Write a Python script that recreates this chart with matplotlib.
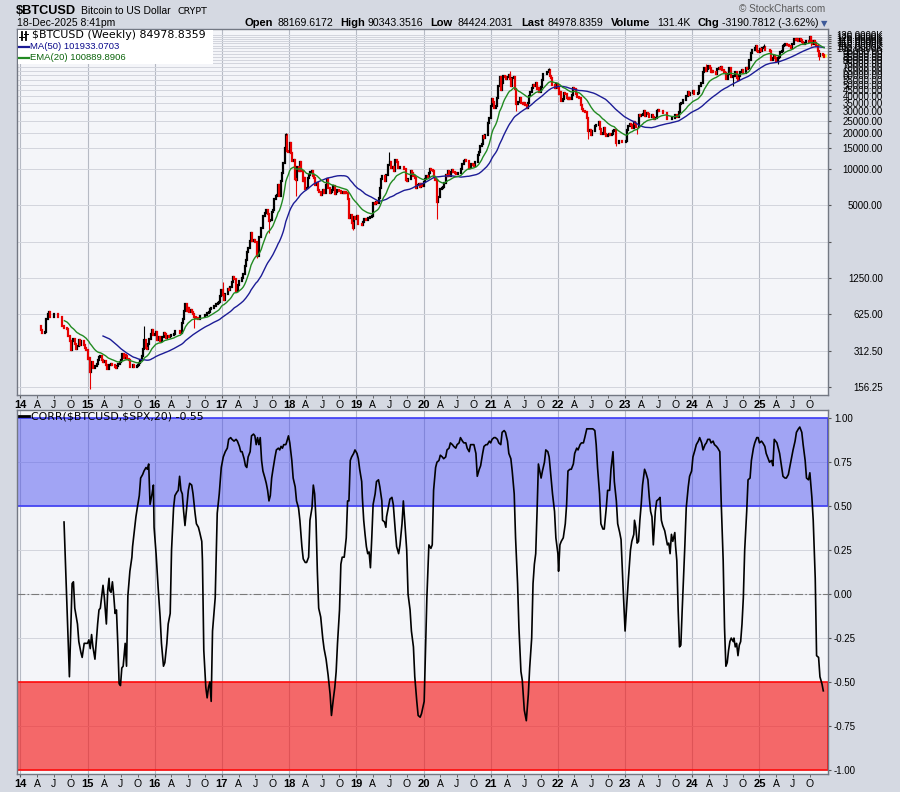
import matplotlib
matplotlib.use('Agg')
import matplotlib.pyplot as plt
from matplotlib.lines import Line2D
from matplotlib.patches import Rectangle
from matplotlib.ticker import NullLocator
import numpy as np
import pandas as pd

plt.rcParams['font.family'] = ['Liberation Sans', 'DejaVu Sans']

# weekly closes of $BTCUSD (weeks starting Monday)
close_2014 = [500, 460, 435, 440, 447, 575, 630, 655, 590, 598, 600, 635, 635, 627, 595, 590,
              590, 500, 505, 478, 480, 477, 412, 377, 320, 378, 390, 355, 325, 345, 387, 352,
              378, 375, 350, 330, 318, 265]
close_2015 = [274, 210, 253, 226, 223, 234, 245, 260, 275, 285, 263, 252, 255, 236, 222, 219,
              240, 241, 237, 240, 230, 225, 233, 245, 250, 261, 292, 273, 290, 281, 265, 260,
              228, 229, 240, 230, 231, 234, 239, 247, 262, 284, 325, 385, 332, 322, 357, 389,
              434, 461, 422, 433]
close_2016 = [448, 387, 403, 378, 376, 407, 438, 432, 402, 413, 410, 417, 420, 421, 428, 458,
              452, 459, 457, 440, 527, 574, 670, 760, 665, 704, 650, 680, 660, 624, 590, 585,
              581, 573, 610, 607, 610, 603, 613, 617, 641, 657, 698, 705, 703, 730, 735, 767,
              770, 790, 891, 998]
close_2017 = [910, 820, 925, 920, 1015, 1000, 1050, 1150, 1270, 1230, 970, 970, 1100, 1190,
              1180, 1240, 1350, 1560, 1770, 2050, 2200, 2520, 2950, 2520, 2600, 2500, 2500,
              1920, 2750, 2730, 3230, 4050, 4100, 4350, 4600, 4230, 3700, 3800, 4390, 4600,
              5700, 6000, 6150, 7400, 5950, 8000, 9300, 11200, 15000, 19100, 14000, 13900]
close_2018 = [16500, 13600, 11600, 11800, 8300, 8100, 10400, 9600, 11450, 9600, 7900, 8500,
              6850, 7000, 8350, 8900, 9400, 9650, 8700, 8500, 7350, 7700, 6750, 6450, 6150,
              6350, 6750, 6350, 7400, 8200, 7000, 6300, 6400, 6700, 7300, 6250, 6500, 6700,
              6630, 6600, 6300, 6410, 6350, 6400, 6350, 5600, 3900, 4150, 3600, 3250, 4000,
              3850, 4050]
close_2019 = [3500, 3530, 3530, 3410, 3660, 3880, 3800, 3800, 3930, 4000, 4000, 4100, 5200,
              5150, 5300, 5200, 5750, 7000, 8200, 8750, 8750, 7950, 8950, 10800, 10800, 11400,
              10250, 10350, 9550, 11800, 11350, 10200, 10150, 10350, 10400, 10300, 10050, 8050,
              7900, 8300, 8200, 9550, 9200, 8800, 8500, 6900, 7400, 7500, 7100, 7500, 7250, 7750]
close_2020 = [8200, 8700, 8600, 9350, 10100, 9900, 9700, 8550, 8050, 5350, 5850, 5900, 6800,
              6900, 7150, 7700, 8900, 8750, 9650, 8700, 9450, 9750, 9400, 9300, 9050, 9100,
              9250, 9200, 9950, 11100, 11700, 11850, 11650, 11700, 10250, 10450, 10950, 10750,
              10680, 11400, 11500, 13050, 13750, 15500, 16050, 18700, 18200, 19150, 19150,
              24000, 26300, 33000]
close_2021 = [38200, 35800, 32300, 33100, 39000, 48700, 57500, 45200, 51200, 59300, 57400,
              55800, 58200, 60000, 56200, 49000, 56600, 58200, 46400, 34700, 35600, 35800,
              39100, 35500, 34700, 35300, 34200, 31800, 35400, 39900, 43800, 47000, 49300,
              48900, 51750, 46000, 47300, 43200, 48200, 54900, 61500, 60900, 61300, 63300,
              65500, 58700, 57300, 49400, 50100, 46700, 50800, 47300]
close_2022 = [41800, 43100, 36300, 37900, 42400, 42200, 38400, 37700, 38400, 37800, 41300,
              46800, 46400, 42200, 39700, 39500, 38500, 34100, 31300, 30300, 29400, 29900,
              26600, 20500, 21000, 19300, 20800, 20800, 22600, 23300, 23200, 24300, 21500,
              19550, 19800, 21800, 19400, 18800, 19050, 19450, 19250, 19570, 20600, 20900,
              16300, 16300, 16450, 17100, 17100, 16750, 16850, 16600]
close_2023 = [17100, 20900, 22700, 23750, 22950, 21800, 24600, 23500, 22400, 22150, 28000,
              27700, 28200, 28300, 30300, 27600, 29250, 28450, 27000, 26850, 28050, 26850,
              25850, 26500, 30500, 30600, 30150, 30250, 30000, 29300, 29050, 29300, 26100,
              26000, 25850, 25850, 26550, 26250, 27950, 27950, 27150, 29900, 34500, 35000,
              37050, 37350, 37450, 39950, 43800, 41400, 43000, 42250]
close_2024 = [43900, 41700, 41550, 42000, 42600, 48300, 51650, 51700, 63100, 69000, 65300,
              67200, 71300, 69350, 63400, 64950, 63100, 63900, 61450, 66950, 68500, 67750,
              69650, 66200, 64250, 62700, 55850, 60800, 68150, 68250, 58100, 58700, 58900,
              64200, 57300, 54850, 59150, 63600, 65600, 62800, 62850, 68350, 67950, 68750,
              80450, 90600, 97650, 96450, 101100, 104450, 95100, 93750, 98300]
close_2025 = [94500, 101100, 102600, 97700, 96500, 96150, 96250, 94250, 80700, 82600, 86100,
              82350, 78400, 83750, 85200, 93750, 94300, 104100, 106000, 109000, 105600, 105700,
              105500, 100900, 108400, 109200, 119000, 117300, 119400, 114200, 119300, 117500,
              113500, 108200, 111100, 115300, 115300, 112200, 123500, 115200, 108600, 114600,
              110600, 104700, 94200, 86900, 90400, 90400, 88170, 84979]

# notable weekly wicks (week start, extreme price)
spike_weeks = ['2015-01-12', '2015-11-02', '2016-08-01', '2017-01-02', '2017-07-10',
               '2017-09-11', '2017-12-11', '2018-02-05', '2018-12-10', '2019-06-24',
               '2020-03-09', '2021-04-12', '2021-05-17', '2021-11-08', '2022-06-13',
               '2022-11-07', '2023-03-06', '2024-03-11', '2024-08-05', '2025-01-20',
               '2025-04-07', '2025-10-06', '2025-10-06', '2025-11-17']
spike_prices = [152, 500, 480, 1150, 1840, 2980, 19800, 6000, 3150, 13800, 3850, 64800,
                30000, 69000, 17600, 15500, 19600, 73800, 49000, 109000, 74500, 126000,
                104000, 80500]

# current week
week_high = 90343.3516
week_low = 84424.2031

# CORR($BTCUSD,$SPX,20), decimal year / value
corr_t1 = [2014.65, 2014.73, 2014.77, 2014.79, 2014.81, 2014.85, 2014.87, 2014.90, 2014.92, 2014.95,
           2014.98, 2015.00, 2015.02, 2015.04, 2015.06, 2015.08, 2015.11, 2015.15, 2015.17, 2015.19,
           2015.22, 2015.23, 2015.25, 2015.28, 2015.30, 2015.32, 2015.33, 2015.35, 2015.37, 2015.39,
           2015.41, 2015.43, 2015.45, 2015.47, 2015.49, 2015.51, 2015.53, 2015.56, 2015.58, 2015.60,
           2015.63, 2015.66, 2015.67, 2015.69, 2015.72, 2015.74, 2015.77, 2015.79, 2015.82, 2015.84,
           2015.87, 2015.89, 2015.91, 2015.93, 2015.96, 2015.98, 2015.99, 2016.02, 2016.05, 2016.08,
           2016.10, 2016.13, 2016.15, 2016.18, 2016.20, 2016.23, 2016.25, 2016.28, 2016.30, 2016.33,
           2016.35, 2016.37, 2016.39, 2016.41, 2016.43, 2016.45, 2016.47, 2016.50, 2016.52, 2016.55,
           2016.57, 2016.60, 2016.62, 2016.65, 2016.67, 2016.70, 2016.71, 2016.73, 2016.76, 2016.78,
           2016.80, 2016.82, 2016.84, 2016.86, 2016.90, 2016.93, 2016.96, 2016.99]
corr_v1 = [0.41, -0.47, 0.06, 0.07, -0.08, -0.17, -0.27, -0.33, -0.36, -0.28,
           -0.28, -0.28, -0.26, -0.31, -0.23, -0.30, -0.37, -0.17, -0.09, -0.08,
           0.02, 0.05, -0.02, -0.17, 0.02, 0.09, 0.02, 0.01, 0.07, -0.01,
           -0.11, -0.09, -0.28, -0.51, -0.52, -0.42, -0.41, -0.28, -0.41, -0.01,
           0.13, 0.21, 0.27, 0.34, 0.44, 0.49, 0.56, 0.66, 0.68, 0.70,
           0.72, 0.71, 0.74, 0.51, 0.57, 0.62, 0.38, 0.23, 0.04, -0.13,
           -0.28, -0.41, -0.39, -0.28, -0.17, -0.11, 0.25, 0.49, 0.56, 0.58,
           0.59, 0.67, 0.59, 0.57, 0.47, 0.39, 0.47, 0.59, 0.63, 0.62,
           0.57, 0.46, 0.40, 0.38, 0.35, 0.30, 0.19, -0.32, -0.53, -0.59,
           -0.53, -0.50, -0.61, -0.21, -0.02, 0.46, 0.57, 0.72]
corr_t2 = [2017.02, 2017.05, 2017.08, 2017.10, 2017.13, 2017.15, 2017.18, 2017.21, 2017.23, 2017.26,
           2017.28, 2017.30, 2017.33, 2017.35, 2017.37, 2017.39, 2017.42, 2017.44, 2017.47, 2017.49,
           2017.51, 2017.53, 2017.55, 2017.57, 2017.59, 2017.61, 2017.64, 2017.66, 2017.68, 2017.70,
           2017.72, 2017.74, 2017.76, 2017.79, 2017.81, 2017.84, 2017.86, 2017.88, 2017.90, 2017.92,
           2017.95, 2017.96, 2017.99, 2018.01, 2018.04, 2018.06, 2018.09, 2018.11, 2018.14, 2018.16,
           2018.19, 2018.21, 2018.24, 2018.26, 2018.29, 2018.31, 2018.34, 2018.36, 2018.38, 2018.40,
           2018.42, 2018.44, 2018.47, 2018.50, 2018.52, 2018.55, 2018.58, 2018.61, 2018.63, 2018.66,
           2018.68, 2018.70, 2018.72, 2018.75, 2018.77, 2018.79, 2018.82, 2018.85, 2018.87, 2018.89,
           2018.91, 2018.93, 2018.96, 2018.98, 2019.01, 2019.03, 2019.05, 2019.08, 2019.09, 2019.11,
           2019.13, 2019.15, 2019.17, 2019.19, 2019.21, 2019.23, 2019.25, 2019.28, 2019.30, 2019.33,
           2019.35, 2019.38, 2019.39, 2019.42, 2019.44, 2019.45, 2019.48, 2019.50, 2019.53, 2019.55,
           2019.58, 2019.60, 2019.63, 2019.65, 2019.68, 2019.70, 2019.72, 2019.75, 2019.77, 2019.80,
           2019.82, 2019.85, 2019.87, 2019.90, 2019.92, 2019.95, 2019.97]
corr_v2 = [0.78, 0.81, 0.83, 0.88, 0.89, 0.88, 0.87, 0.88, 0.87, 0.84,
           0.81, 0.81, 0.77, 0.73, 0.72, 0.78, 0.81, 0.90, 0.91, 0.90,
           0.85, 0.89, 0.85, 0.89, 0.76, 0.70, 0.66, 0.63, 0.59, 0.53,
           0.56, 0.66, 0.71, 0.78, 0.82, 0.83, 0.82, 0.84, 0.83, 0.85,
           0.85, 0.86, 0.90, 0.86, 0.76, 0.66, 0.61, 0.53, 0.49, 0.42,
           0.27, 0.20, 0.18, 0.18, 0.21, 0.42, 0.49, 0.62, 0.57, 0.42,
           0.13, -0.08, -0.13, -0.25, -0.31, -0.37, -0.46, -0.57, -0.69, -0.59,
           -0.53, -0.44, -0.28, -0.09, 0.17, 0.21, 0.21, 0.32, 0.53, 0.53,
           0.76, 0.78, 0.80, 0.82, 0.80, 0.77, 0.71, 0.64, 0.55, 0.42,
           0.34, 0.27, 0.23, 0.24, 0.15, 0.32, 0.51, 0.57, 0.64, 0.65,
           0.61, 0.53, 0.42, 0.41, 0.38, 0.44, 0.50, 0.54, 0.55, 0.51,
           0.36, 0.27, 0.23, 0.28, 0.40, 0.53, 0.42, 0.25, 0.00, -0.09,
           -0.21, -0.30, -0.47, -0.61, -0.69, -0.70, -0.68]
corr_t3 = [2020.01, 2020.05, 2020.08, 2020.11, 2020.13, 2020.15, 2020.18, 2020.20, 2020.23, 2020.25,
           2020.28, 2020.30, 2020.33, 2020.35, 2020.38, 2020.40, 2020.43, 2020.45, 2020.48, 2020.50,
           2020.53, 2020.55, 2020.58, 2020.60, 2020.63, 2020.65, 2020.68, 2020.70, 2020.73, 2020.75,
           2020.78, 2020.80, 2020.83, 2020.85, 2020.88, 2020.90, 2020.93, 2020.95, 2020.98, 2021.00,
           2021.02, 2021.05, 2021.07, 2021.10, 2021.12, 2021.15, 2021.17, 2021.20, 2021.22, 2021.25,
           2021.27, 2021.30, 2021.32, 2021.35, 2021.37, 2021.40, 2021.42, 2021.45, 2021.47, 2021.50,
           2021.53, 2021.56, 2021.58, 2021.61, 2021.63, 2021.65, 2021.67, 2021.69, 2021.71, 2021.73,
           2021.75, 2021.77, 2021.80, 2021.82, 2021.85, 2021.87, 2021.90, 2021.92, 2021.95, 2021.97,
           2022.00, 2022.01, 2022.03, 2022.05, 2022.08, 2022.11, 2022.13, 2022.15, 2022.18, 2022.20,
           2022.23, 2022.25, 2022.28, 2022.30, 2022.33, 2022.35, 2022.38, 2022.40, 2022.43, 2022.47,
           2022.52, 2022.55, 2022.57, 2022.59, 2022.62, 2022.64, 2022.67, 2022.69, 2022.72, 2022.74,
           2022.77, 2022.79, 2022.82, 2022.84, 2022.87, 2022.89, 2022.92, 2022.94, 2022.97]
corr_v3 = [-0.61, -0.02, 0.28, 0.26, 0.28, 0.59, 0.72, 0.75, 0.76, 0.79,
           0.78, 0.77, 0.78, 0.82, 0.83, 0.86, 0.85, 0.84, 0.83, 0.85,
           0.86, 0.89, 0.87, 0.86, 0.86, 0.83, 0.81, 0.85, 0.85, 0.85,
           0.80, 0.67, 0.71, 0.73, 0.80, 0.84, 0.85, 0.85, 0.87, 0.86,
           0.88, 0.89, 0.89, 0.88, 0.86, 0.85, 0.92, 0.93, 0.92, 0.87,
           0.80, 0.77, 0.70, 0.57, 0.32, 0.06, -0.19, -0.44, -0.49, -0.66,
           -0.72, -0.57, -0.42, -0.25, 0.06, 0.17, 0.23, 0.47, 0.74, 0.70,
           0.66, 0.70, 0.75, 0.82, 0.81, 0.78, 0.65, 0.57, 0.47, 0.32,
           0.23, 0.13, 0.28, 0.30, 0.32, 0.40, 0.51, 0.70, 0.71, 0.71,
           0.74, 0.80, 0.83, 0.82, 0.85, 0.86, 0.86, 0.89, 0.94, 0.94,
           0.94, 0.93, 0.85, 0.72, 0.57, 0.40, 0.37, 0.37, 0.49, 0.59,
           0.59, 0.71, 0.81, 0.64, 0.53, 0.40, 0.35, 0.31, 0.04]
corr_t4 = [2023.00, 2023.02, 2023.05, 2023.08, 2023.10, 2023.13, 2023.14, 2023.16, 2023.18, 2023.20,
           2023.22, 2023.24, 2023.26, 2023.29, 2023.31, 2023.34, 2023.36, 2023.38, 2023.40, 2023.42,
           2023.45, 2023.47, 2023.50, 2023.52, 2023.54, 2023.56, 2023.59, 2023.61, 2023.63, 2023.65,
           2023.67, 2023.69, 2023.71, 2023.74, 2023.75, 2023.77, 2023.79, 2023.81, 2023.83, 2023.85,
           2023.87, 2023.89, 2023.91, 2023.94, 2023.96, 2023.99, 2024.01, 2024.04, 2024.06, 2024.09,
           2024.11, 2024.14, 2024.16, 2024.19, 2024.21, 2024.23, 2024.26, 2024.28, 2024.31, 2024.33,
           2024.36, 2024.38, 2024.41, 2024.43, 2024.46, 2024.48, 2024.50, 2024.52, 2024.54, 2024.56,
           2024.58, 2024.61, 2024.62, 2024.64, 2024.66, 2024.68, 2024.70, 2024.72, 2024.74, 2024.76,
           2024.78, 2024.81, 2024.83, 2024.86, 2024.88, 2024.91, 2024.93, 2024.96, 2024.98, 2025.00,
           2025.03, 2025.05, 2025.08, 2025.10, 2025.13, 2025.15, 2025.18, 2025.20, 2025.22, 2025.24,
           2025.26, 2025.28, 2025.30, 2025.33, 2025.35, 2025.38, 2025.40, 2025.43, 2025.45, 2025.48,
           2025.50, 2025.53, 2025.55, 2025.58, 2025.60, 2025.63, 2025.65, 2025.68, 2025.70, 2025.73,
           2025.75, 2025.78, 2025.80, 2025.83, 2025.85, 2025.88, 2025.90, 2025.93, 2025.95]
corr_v4 = [-0.21, -0.09, 0.09, 0.25, 0.30, 0.34, 0.42, 0.38, 0.29, 0.30,
           0.42, 0.51, 0.62, 0.71, 0.69, 0.65, 0.55, 0.47, 0.44, 0.28,
           0.47, 0.53, 0.54, 0.55, 0.42, 0.39, 0.36, 0.32, 0.28, 0.29,
           0.23, 0.34, 0.30, 0.35, 0.28, 0.19, -0.09, -0.30, -0.29, -0.09,
           0.09, 0.28, 0.49, 0.61, 0.67, 0.70, 0.78, 0.82, 0.85, 0.87,
           0.89, 0.86, 0.82, 0.85, 0.86, 0.88, 0.88, 0.86, 0.87, 0.85,
           0.84, 0.83, 0.81, 0.53, 0.19, -0.19, -0.41, -0.39, -0.32, -0.27,
           -0.25, -0.27, -0.25, -0.30, -0.28, -0.35, -0.29, -0.27, -0.17, -0.02,
           0.25, 0.47, 0.65, 0.66, 0.76, 0.83, 0.86, 0.89, 0.89, 0.86,
           0.87, 0.86, 0.84, 0.80, 0.77, 0.75, 0.76, 0.73, 0.88, 0.87,
           0.86, 0.83, 0.80, 0.72, 0.67, 0.66, 0.66, 0.68, 0.72, 0.78,
           0.82, 0.87, 0.92, 0.94, 0.95, 0.92, 0.85, 0.76, 0.66, 0.65,
           0.69, 0.55, 0.42, 0.09, -0.35, -0.36, -0.47, -0.51, -0.55]

price_ticks = [156.25, 312.5, 625, 1250, 2500, 5000] + list(range(10000, 135000, 5000))
corr_ticks = [1.0, 0.75, 0.5, 0.25, 0.0, -0.25, -0.5, -0.75, -1.0]
year_list = list(range(2014, 2026))
quarter_names = ['A', 'J', 'O']

# colours
bg = '#d5d9e2'
panel = '#f4f5f9'
grid_col = '#d2d5dd'
year_grid = '#b6bac4'
up_col = '#000000'
dn_col = '#e60000'
ma_col = '#1c1c96'
ema_col = '#228b22'


def dec_year(d):
    d = pd.DatetimeIndex(d)
    ndays = np.where(d.is_leap_year, 366, 365)
    return np.asarray(d.year + (d.dayofyear - 1) / ndays, dtype=float)


def price_label(v):
    if v == 2500:
        return ''
    if v >= 100000:
        return f'{v / 1000:.4f}K'
    return f'{v:.2f}'


closes = np.array(close_2014 + close_2015 + close_2016 + close_2017 + close_2018 + close_2019
                  + close_2020 + close_2021 + close_2022 + close_2023 + close_2024 + close_2025,
                  dtype=float)
weeks = pd.date_range(end='2025-12-15', periods=len(closes), freq='W-MON')
t = dec_year(weeks + pd.Timedelta(days=3))
prev = np.r_[closes[0], closes[:-1]]
up = closes >= prev

s = pd.Series(closes)
ma50 = s.rolling(50).mean().values
ema20 = np.full(len(s), np.nan)
ema20[19] = s[:20].mean()
k = 2 / 21
for i in range(20, len(s)):
    ema20[i] = k * closes[i] + (1 - k) * ema20[i - 1]

corr_t = corr_t1 + corr_t2 + corr_t3 + corr_t4
corr_v = corr_v1 + corr_v2 + corr_v3 + corr_v4

year_pos = dec_year(pd.to_datetime([f'{y}-01-01' for y in year_list]))
q_dates = pd.to_datetime([f'{y}-{m:02d}-01' for y in year_list for m in (4, 7, 10)])
q_pos = dec_year(q_dates)
q_labels = quarter_names * len(year_list)

W, H = 900, 792


def fx(x):
    return x / W


def fy(y):
    return 1 - y / H


fig = plt.figure(figsize=(9, 7.92), dpi=100, facecolor=bg)
ax1 = fig.add_axes([fx(17), fy(395), fx(828) - fx(17), fy(29.3) - fy(395)])
ax2 = fig.add_axes([fx(17), fy(774), fx(828) - fx(17), fy(410) - fy(774)])

for ax in (ax1, ax2):
    ax.set_facecolor(panel)
    ax.set_axisbelow(True)
    for sp in ax.spines.values():
        sp.set_color('#737883')
        sp.set_linewidth(1.0)
    ax.set_xlim(2013.95, 2026.02)
    ax.set_xticks(year_pos, labels=[f'{y % 100:02d}' for y in year_list])
    ax.set_xticks(q_pos, labels=q_labels, minor=True)
    ax.tick_params(axis='x', which='both', labelsize=7.5, length=2, pad=1.5, color='#555555')
    ax.tick_params(axis='x', which='major', labelsize=8)
    for lbl in ax.get_xticklabels():
        lbl.set_fontweight('bold')
    ax.grid(axis='x', which='major', color=year_grid, lw=0.8)
    ax.yaxis.tick_right()

# ---- price panel
ax1.set_yscale('log')
ax1.set_ylim(134.4, 143700)
ax1.set_yticks(price_ticks, labels=[price_label(v) for v in price_ticks])
ax1.yaxis.set_minor_locator(NullLocator())
ax1.tick_params(axis='y', labelsize=7, length=2, pad=37.5, color='#555555')
for lbl in ax1.get_yticklabels():
    lbl.set_horizontalalignment('right')
ax1.grid(axis='y', which='major', color=grid_col, lw=0.7)

ax1.vlines(t[up], prev[up], closes[up], color=up_col, lw=1.6, capstyle='projecting', zorder=3)
ax1.vlines(t[~up], prev[~up], closes[~up], color=dn_col, lw=1.6, capstyle='projecting', zorder=3)
idx = weeks.get_indexer(pd.to_datetime(spike_weeks), method='nearest')
spike_cols = [up_col if up[i] else dn_col for i in idx]
ax1.vlines(t[idx], closes[idx], spike_prices, colors=spike_cols, lw=0.8, zorder=3)

# current week highlight
ax1.vlines(t[-1], week_low, week_high, color='#ffff40', lw=3.5, zorder=2.5)
ax1.vlines(t[-1], week_low, week_high, color=dn_col, lw=0.8, zorder=3)

ax1.plot(t, ma50, color=ma_col, lw=1.0, zorder=4)
ax1.plot(t, ema20, color=ema_col, lw=1.0, zorder=4)

# ---- correlation panel
ax2.set_ylim(-1.023, 1.047)
ax2.set_yticks(corr_ticks, labels=[f'{v:.2f}' for v in corr_ticks])
ax2.tick_params(axis='y', labelsize=7, length=2, pad=2.3, color='#555555')
ax2.grid(axis='y', which='major', color=grid_col, lw=0.7)
ax2.axhspan(0.5, 1.0, facecolor=(0.31, 0.33, 0.94, 0.5), edgecolor='#3c3cf5', lw=1.2, zorder=1)
ax2.axhspan(-1.0, -0.5, facecolor=(0.96, 0.11, 0.11, 0.65), edgecolor='#ff0a0a', lw=1.2, zorder=1)
ax2.axhline(0, color='#7a7a7a', lw=0.8, linestyle=(0, (7, 2, 1.5, 2)), zorder=1.5)
ax2.plot(corr_t, corr_v, color='black', lw=1.2, zorder=4)

# ---- legends
fig.add_artist(Rectangle((fx(17.5), fy(64)), fx(213) - fx(17.5), fy(29.8) - fy(64),
                         transform=fig.transFigure, facecolor='white', edgecolor='none', zorder=5))
for xx in (21.5, 25.5):
    fig.add_artist(Line2D([fx(xx), fx(xx)], [fy(32), fy(39.5)], transform=fig.transFigure,
                          color='black', lw=1.3, zorder=6))
fig.add_artist(Line2D([fx(19), fx(23.5)], [fy(37), fy(37)], transform=fig.transFigure,
                      color='black', lw=0.7, zorder=6))
fig.add_artist(Line2D([fx(24), fx(28)], [fy(34), fy(34)], transform=fig.transFigure,
                      color='black', lw=0.7, zorder=6))
fig.text(fx(32), fy(35.5), '$BTCUSD (Weekly) 84978.8359', fontsize=7.9, va='center',
         family=['DejaVu Sans'], parse_math=False, zorder=6)
fig.add_artist(Line2D([fx(19), fx(28.5)], [fy(46.5), fy(46.5)], transform=fig.transFigure,
                      color=ma_col, lw=1.6, zorder=6))
fig.text(fx(30), fy(46.5), 'MA(50) 101933.0703', fontsize=6.8, va='center', color='#0a0a8c', zorder=6)
fig.add_artist(Line2D([fx(19), fx(28.5)], [fy(58), fy(58)], transform=fig.transFigure,
                      color=ema_col, lw=1.6, zorder=6))
fig.text(fx(30), fy(58), 'EMA(20) 100889.8906', fontsize=6.8, va='center', color='#0b640b', zorder=6)

fig.add_artist(Line2D([fx(19), fx(29)], [fy(416), fy(416)], transform=fig.transFigure,
                      color='black', lw=2.0, zorder=6))
fig.text(fx(31), fy(416), 'CORR($BTCUSD,$SPX,20) -0.55', fontsize=7.9, va='center',
         family=['DejaVu Sans'], parse_math=False, zorder=6)

# ---- header
fig.text(fx(16), fy(14.5), '$BTCUSD', fontsize=9.2, fontweight='bold', va='baseline', parse_math=False)
fig.text(fx(81), fy(14.5), 'Bitcoin to US Dollar', fontsize=7.5, va='baseline')
fig.text(fx(177), fy(14.5), 'CRYPT', fontsize=6.8, va='baseline', family=['DejaVu Sans'])
fig.text(fx(17), fy(26), '18-Dec-2025 8:41pm', fontsize=7.5, va='baseline')
fig.text(fx(739), fy(12), '\u00a9 StockCharts.com', fontsize=7.2, va='baseline', color='#5a5a5a')

quote = [(245, 'Open', True), (277, '88169.6172', False), (340, 'High', True),
         (368, '90343.3516', False), (430, 'Low', True), (457, '84424.2031', False),
         (521, 'Last', True), (548, '84978.8359', False), (611, 'Volume', True),
         (657, '131.4K', False), (697, 'Chg', True), (722, '-3190.7812 (-3.62%)', False)]
for xx, txt, bold in quote:
    fig.text(fx(xx), fy(26), txt, fontsize=8 if bold else 7.6, va='baseline',
             fontweight='bold' if bold else 'normal')
fig.text(fx(821), fy(26), '\u25bc', fontsize=6, va='baseline', color='#3d5a99', family=['DejaVu Sans'])

fig.savefig('out.png', dpi=100, facecolor=bg)
